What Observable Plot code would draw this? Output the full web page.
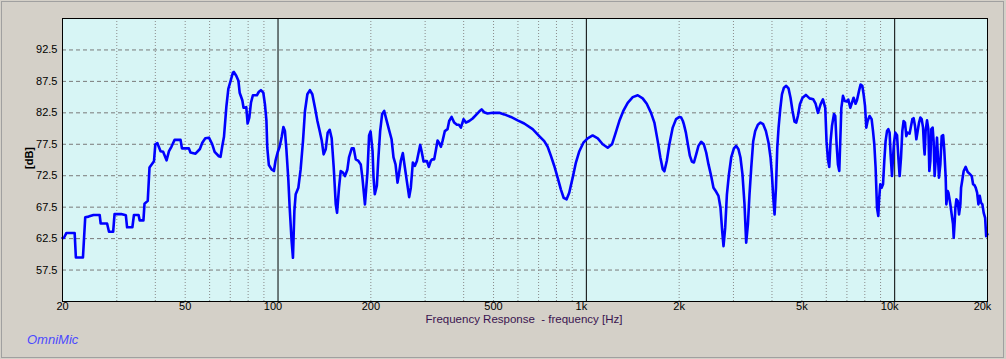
<!DOCTYPE html>
<html><head><meta charset="utf-8">
<script src="https://cdn.jsdelivr.net/npm/d3@7"></script>
<script src="https://cdn.jsdelivr.net/npm/@observablehq/plot@0.6"></script>
<style>
html,body{margin:0;padding:0;background:#d4d0c8;}
#wrap{position:relative;width:1006px;height:359px;background:#d4d0c8;overflow:hidden;font-family:"Liberation Sans",Arial,sans-serif;}
#border{position:absolute;left:1px;top:1px;width:1001px;height:355px;border:1px solid #a0a0a0;}
#chart{position:absolute;left:0;top:0;}
.lbl{position:absolute;white-space:pre;line-height:1;}
#ylab{left:29px;top:158px;transform:translate(-50%,-50%) rotate(-90deg);font-weight:bold;font-size:11px;color:#000;}
#xlab{left:524px;top:314px;transform:translateX(-50%);font-size:11.5px;color:#3a1450;}
#brand{left:27px;top:333px;font-size:13px;font-style:italic;color:#4a4aff;}
</style></head><body>
<div id="wrap"><div id="border"></div><div id="chart"></div>
<div class="lbl" id="ylab">[dB]</div>
<div class="lbl" id="xlab">Frequency Response  - frequency [Hz]</div>
<div class="lbl" id="brand">OmniMic</div>
</div>
<script>
const freq = [
20,20.2,20.6,21.9,22.1,23.3,23.7,24.3,25.2,26.4,
26.6,27.9,28.3,29.2,29.5,31.0,32.1,32.4,33.7,34.1,
35.3,35.6,36.6,36.9,37.8,38.3,39.6,40.0,40.6,41.6,
42.4,43.5,44.3,45.1,46.2,48.3,48.8,51.4,52.0,54.0,
55.8,56.8,58.1,59.7,61.2,62.3,64.3,65.1,66.0,66.8,
68.0,69.0,70.2,71.4,71.9,73.2,74.4,75.1,76.6,77.3,
78.9,79.7,80.7,81.7,82.9,85.4,86.7,88.0,89.6,90.7,
91.7,92.3,93.4,95.3,97.0,98.2,99.7,101.2,102.8,104.1,
105.3,106.4,108.0,109.1,110.7,111.8,113.0,114.1,116.4,118.4,
120.5,122.3,124.5,126.9,129.2,131.8,134.2,136.5,138.6,140.6,
142.8,144.9,147.1,149.3,151.6,153.9,155.4,157.7,159.7,162.5,
164.9,167.9,169.9,173.4,176.0,178.7,182.3,185.5,187.8,191.4,
195.0,197.4,199.6,202.6,204.1,206.0,209.2,211.3,214.4,217.6,
221.0,224.4,228.8,233.5,236.9,240.5,244.1,246.6,250.2,254.0,
257.9,261.7,266.3,269.6,273.7,277.8,282.1,286.3,289.1,292.2,
296.5,303.9,308.4,313.0,316.1,321.0,325,329.2,333.2,337.4,
341.6,347.6,354.6,359.0,365.6,372.8,380.3,386,391.8,399.8,
406.8,417,427.7,438.2,449.2,457.4,466,478.2,496.5,521.8,
541.6,569.4,598.6,628.8,669.6,703.4,730.2,749,767.6,787,
807,827,844,863,880,903,925,949,978,1010,
1048,1089,1130,1173,1211,1241,1279,1318,1362,1414,
1468,1523,1570,1621,1662,1704,1738,1769,1791,1823,
1859,1906,1954,2005,2030,2056,2071,2103,2134,2167,
2200,2233,2271,2310,2357,2405,2448,2490,2540,2584,
2637,2682,2723,2758,2785,2820,2857,2900,2950,3010,
3062,3114,3161,3209,3258,3299,3342,3382,3426,3477,
3529,3600,3671,3745,3822,3898,3957,3998,4038,4078,
4121,4161,4202,4254,4309,4373,4448,4525,4594,4664,
4734,4794,4854,4928,5025,5152,5296,5444,5540,5640,
5750,5852,5954,6011,6074,6136,6196,6261,6354,6416,
6481,6546,6612,6715,6797,6880,7000,7072,7178,7357,
7468,7546,7659,7752,7851,7929,8012,8091,8170,8292,
8418,8506,8588,8672,8763,8849,8895,8982,9070,9166,
9254,9344,9443,9535,9628,9700,9802,9876,9950,10048,
10178,10277,10377,10485,10586,10690,10800,10907,11015,11180,
11411,11520,11640,11756,11874,11996,12114,12233,12360,12454,
12506,12600,12732,12860,12954,13052,13148,13276,13376,13474,
13612,13716,13920,14064,14208,14360,14490,14636,14708,14860,
14940,15156,15304,15460,15540,15660,15736,15854,16006,16174,
16332,16420,16580,16740,16994,17250,17510,17776,17960,18140,
18312,18506,18690,18872,19060,19250,19440,19650,19800,19990
];
const db = [
62.6,62.6,63.4,63.4,59.5,59.5,65.9,66.0,66.25,66.25,
64.9,64.9,63.6,63.6,66.4,66.4,66.2,64.3,64.3,66.25,
66.25,65.4,65.4,68.05,68.5,73.8,74.8,77.5,77.7,76.4,
76.3,74.95,76.4,77.1,78.2,78.2,76.85,76.85,76.2,76.0,
76.75,77.75,78.45,78.55,77.5,76.3,75.6,75.5,77.3,78.7,
83.5,86.3,87.6,88.9,89.0,88.4,87.6,85.7,84.5,83.3,
83.4,80.8,81.75,84.1,85.3,85.3,85.85,86.1,85.7,83.85,
81.3,76.95,74.2,73.5,73.25,74.95,76.2,77.1,78.7,80.25,
79.6,76.85,71.9,67.4,62.1,59.45,66.9,69.55,70.6,73.5,
78.0,82.8,85.45,86.1,85.45,83.3,81.2,79.6,78.1,75.9,
76.7,79.35,79.8,78.45,73.8,67.95,66.6,70.6,73.25,73.0,
72.45,73.5,75.4,76.85,76.85,75.1,74.85,74.3,72.2,67.95,
73.0,78.9,79.55,76.4,72.2,69.55,70.9,74.85,79.6,82.3,
82.8,81.5,79.9,78.3,75.4,74.3,71.4,72.7,74.85,76.1,
73.8,71.65,69.1,70.6,74.6,74.05,74.85,76.4,77.4,76.4,
74.75,74.85,73.9,74.85,75.1,75.1,76.55,78.1,77.7,77.1,
78.0,79.6,79.9,81.2,81.85,80.95,80.6,80.6,80.15,81.5,
80.95,81.2,81.6,82.15,82.7,83.05,82.6,82.4,82.5,82.5,
82.25,81.85,81.3,80.8,79.9,78.8,78.0,77.1,75.65,74.05,
72.2,70.3,69.0,68.75,69.8,72.2,74.6,76.4,77.75,78.45,
78.9,78.45,77.5,76.95,77.5,79.1,81.2,82.8,84.1,85.0,
85.3,84.8,83.95,82.5,80.95,78.0,75.4,73.55,73.2,74.85,
77.5,80.15,81.5,81.85,81.75,81.2,80.7,79.35,77.5,75.65,
74.75,74.6,75.9,77.25,77.9,77.5,76.15,74.3,72.45,70.6,
69.95,69.3,67.4,63.7,61.3,64.2,69.55,72.7,75.4,76.85,
77.25,76.7,75.4,72.7,67.95,61.85,64.8,69.55,73.8,78.0,
79.6,80.6,80.95,80.7,79.6,77.75,75.4,72.7,69.0,66.35,
70.6,76.95,80.15,83.05,85.45,86.5,86.8,86.4,84.9,82.8,
81.1,80.95,82.0,83.85,84.9,85.35,84.8,84.65,83.95,82.5,
83.85,84.65,83.3,78.0,75.1,73.9,78.0,80.4,82.3,82.0,
77.5,74.3,73.25,83.3,85.2,84.4,84.3,84.6,83.3,84.9,
83.95,84.5,85.95,87.0,86.8,85.45,83.6,80.15,81.2,82.0,
81.5,79.6,77.5,73.8,67.4,66.1,68.5,71.15,70.6,71.15,
74.85,78.0,79.6,79.9,79.35,75.9,72.45,75.4,77.75,79.35,
78.95,75.4,72.45,75.4,79.6,81.2,80.95,78.8,79.35,79.2,
81.5,81.65,80.4,78.3,79.6,80.95,81.75,81.5,80.15,76.95,
75.9,79.6,81.3,79.9,73.25,74.85,79.9,80.15,78.0,72.45,
75.65,78.55,72.2,74.3,78.8,78.95,76.4,72.2,67.95,70.05,
69.8,67.95,66.35,64.8,62.65,65.3,67.4,68.75,68.5,66.35,
67.95,70.6,71.9,73.25,73.9,73.1,72.8,72.45,71.15,71.0,
70.6,69.8,67.95,69.3,68.2,67.95,66.6,65.8,62.9,63.2
];
const xTicks = [20,50,100,200,500,1000,2000,5000,10000,20000];
const xTickLabels = ["20","50","100","200","500","1k","2k","5k","10k","20k"];
const xShifted = [100,1000,10000,20000];
const xMinorGrid = [30,40,50,60,70,80,90,200,300,400,500,600,700,800,900,2000,3000,4000,5000,6000,7000,8000,9000];
const xMajorGrid = [100,1000,10000];
const yTicks = [57.5,62.5,67.5,72.5,77.5,82.5,87.5,92.5];

const data = freq.map((f, i) => ({f, db: db[i]}));
const labelOf = new Map(xTicks.map((t, i) => [t, xTickLabels[i]]));
const plainTicks = xTicks.filter(t => !xShifted.includes(t));

const chart = Plot.plot({
  width: 1006, height: 359,
  marginLeft: 62, marginRight: 19, marginTop: 18, marginBottom: 58,
  style: {background: "transparent", fontFamily: "'Liberation Sans', Arial, sans-serif", fontSize: "11px", color: "#000"},
  x: {type: "log", domain: [20, 20000], axis: null},
  y: {domain: [52.5, 97.5], axis: null},
  marks: [
    Plot.frame({fill: "#d7f5f5", stroke: null}),
    Plot.ruleY(yTicks, {stroke: "#7a7a7a", strokeDasharray: "4,3", strokeWidth: 1}),
    Plot.ruleX(xMinorGrid, {stroke: "#8a8a8a", strokeDasharray: "1,2", strokeWidth: 1}),
    Plot.ruleX(xMajorGrid, {stroke: "#000", strokeWidth: 1}),
    Plot.line(data, {x: "f", y: "db", stroke: "#0000ff", strokeWidth: 2.6, strokeLinejoin: "round"}),
    Plot.frame({stroke: "#000", strokeWidth: 1}),
    Plot.text(yTicks, {y: d => d, frameAnchor: "left", textAnchor: "end", dx: -5, text: d => d.toFixed(1), fill: "#000"}),
    Plot.text(plainTicks, {x: d => d, frameAnchor: "bottom", lineAnchor: "top", dy: 1, text: d => labelOf.get(d), fill: "#000"}),
    Plot.text(xShifted, {x: d => d, frameAnchor: "bottom", lineAnchor: "top", dy: 1, dx: -5, text: d => labelOf.get(d), fill: "#000"})
  ]
});
document.getElementById("chart").appendChild(chart);
</script>
</body></html>
